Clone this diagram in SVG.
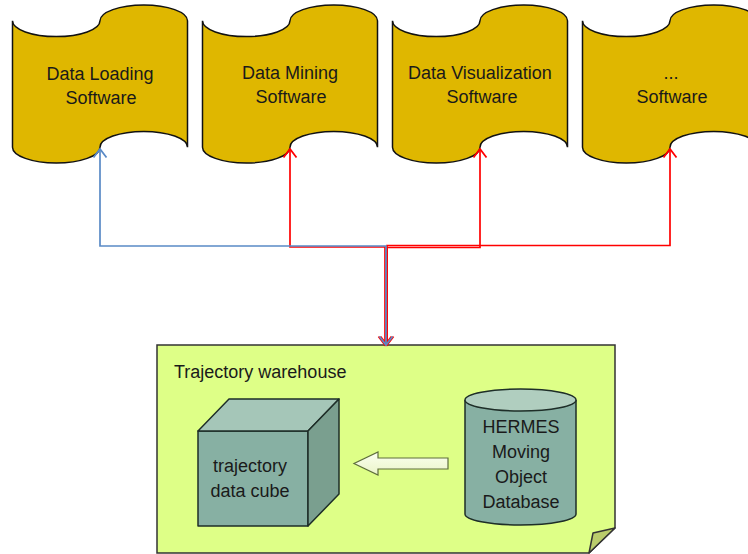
<svg xmlns="http://www.w3.org/2000/svg" width="748" height="554" viewBox="0 0 748 554">
  <defs>
    <style>
      .tape { fill: #DFB700; stroke: #111; stroke-width: 1.5; }
      .lbl { font-family: "Liberation Sans", Arial, sans-serif; font-size: 18px; fill: #1a1a1a; text-anchor: middle; }
      .title { font-family: "Liberation Sans", Arial, sans-serif; font-size: 18px; fill: #1a1a1a; }
      .blue { fill: none; stroke: #5A8AC6; stroke-width: 1.7; }
      .red { fill: none; stroke: #FF0000; stroke-width: 1.7; }
      .solid { stroke: #1e2e28; stroke-width: 1.5; stroke-linejoin: round; }
    </style>
    <marker id="headBlue" viewBox="0 0 10 14" refX="8.5" refY="7" markerWidth="10" markerHeight="14" markerUnits="userSpaceOnUse" orient="auto-start-reverse" overflow="visible">
      <path d="M0,0.5 L8.5,7 L0,13.5" fill="none" stroke="#5A8AC6" stroke-width="1.8"/>
    </marker>
    <marker id="headRed" viewBox="0 0 10 14" refX="8.5" refY="7" markerWidth="10" markerHeight="14" markerUnits="userSpaceOnUse" orient="auto-start-reverse" overflow="visible">
      <path d="M0,0.5 L8.5,7 L0,13.5" fill="none" stroke="#FF0000" stroke-width="1.8"/>
    </marker>
    <linearGradient id="arrowFill" x1="0" y1="0" x2="0" y2="1">
      <stop offset="0" stop-color="#FBFFF0"/>
      <stop offset="1" stop-color="#EAF5C8"/>
    </linearGradient>
  </defs>

  <rect width="748" height="554" fill="#ffffff"/>

  <!-- software packages (punched tape shapes) -->
  <g id="node-loading">
    <path class="tape" d="M12.5,20.8 A43.75,15.8 0 0 0 100,20.8 A43.75,15.8 0 0 1 187.5,20.8 L187.5,147.2 A43.75,15.8 0 0 0 100,147.2 A43.75,15.8 0 0 1 12.5,147.2 Z"/>
    <text class="lbl" x="100" y="80">Data Loading</text>
    <text class="lbl" x="101" y="104">Software</text>
  </g>
  <g id="node-mining">
    <path class="tape" d="M202.5,20.8 A43.75,15.8 0 0 0 290,20.8 A43.75,15.8 0 0 1 377.5,20.8 L377.5,147.2 A43.75,15.8 0 0 0 290,147.2 A43.75,15.8 0 0 1 202.5,147.2 Z"/>
    <text class="lbl" x="290" y="79">Data Mining</text>
    <text class="lbl" x="291" y="103">Software</text>
  </g>
  <g id="node-visualization">
    <path class="tape" d="M392.5,20.8 A43.75,15.8 0 0 0 480,20.8 A43.75,15.8 0 0 1 567.5,20.8 L567.5,147.2 A43.75,15.8 0 0 0 480,147.2 A43.75,15.8 0 0 1 392.5,147.2 Z"/>
    <text class="lbl" x="480" y="79">Data Visualization</text>
    <text class="lbl" x="482" y="103">Software</text>
  </g>
  <g id="node-other">
    <path class="tape" d="M582.5,20.8 A43.75,15.8 0 0 0 670,20.8 A43.75,15.8 0 0 1 757.5,20.8 L757.5,147.2 A43.75,15.8 0 0 0 670,147.2 A43.75,15.8 0 0 1 582.5,147.2 Z"/>
    <text class="lbl" x="671" y="79">...</text>
    <text class="lbl" x="672" y="103">Software</text>
  </g>

  <!-- trajectory warehouse (note with folded corner) -->
  <g id="node-warehouse">
    <path d="M157,345 H615 V528 L589,553 H157 Z" fill="#DEFF87" stroke="#333" stroke-width="1.5"/>
    <path d="M615,528 L593,533 L589,553 Z" fill="#BACC6C" stroke="#333" stroke-width="1.5" stroke-linejoin="round"/>
    <text class="title" x="174" y="378">Trajectory warehouse</text>
  </g>

  <g id="node-cube">
    <rect class="solid" x="198" y="431" width="110" height="95" fill="#87B0A3"/>
    <polygon class="solid" points="198,431 229,399 339,399 308,431" fill="#A5C6B8"/>
    <polygon class="solid" points="308,431 339,399 339,494 308,526" fill="#7A9F8F"/>
    <text class="lbl" x="250" y="472">trajectory</text>
    <text class="lbl" x="250" y="497">data cube</text>
  </g>

  <g id="node-database">
    <path class="solid" d="M465,400 V514 A55.5,11 0 0 0 576,514 V400" fill="#87B0A3"/>
    <ellipse class="solid" cx="520.5" cy="400" rx="55.5" ry="11" fill="#B0CEBF"/>
    <text class="lbl" x="521" y="433">HERMES</text>
    <text class="lbl" x="521" y="458">Moving</text>
    <text class="lbl" x="521" y="483">Object</text>
    <text class="lbl" x="521" y="508">Database</text>
  </g>

  <!-- connectors -->
  <g id="connectors">
    <path class="red" d="M385,345 V247 H290 V149" marker-start="url(#headRed)" marker-end="url(#headRed)"/>
    <path class="red" d="M387,345 V245.5 H670 V149" marker-start="url(#headRed)" marker-end="url(#headRed)"/>
    <path class="red" d="M387,345 V247.5 H480 V149" stroke-width="2.6" marker-end="url(#headRed)"/>
    <path class="blue" d="M386,345 V246 H100 V149" marker-start="url(#headBlue)" marker-end="url(#headBlue)"/>
    <path d="M448,458 H378 V452 L354,463.5 L378,475 V469 H448 Z" fill="url(#arrowFill)" stroke="#5E6E3C" stroke-width="1.2" stroke-linejoin="miter"/>
  </g>
</svg>
